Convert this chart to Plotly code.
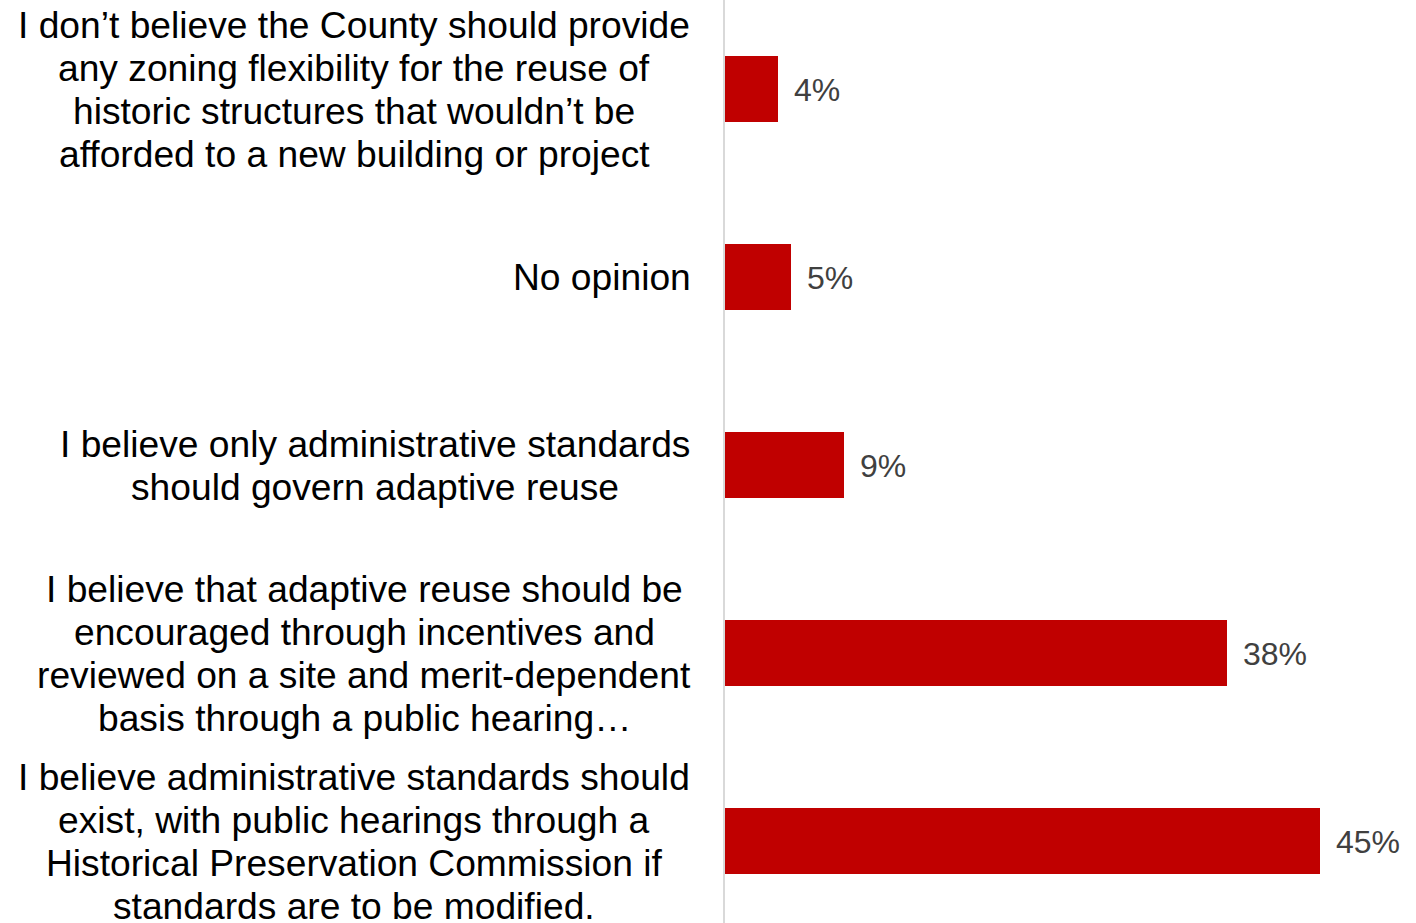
import plotly.graph_objects as go

# Survey responses (top to bottom) and their shares in percent
categories = [
    "I don’t believe the County should provide<br>any zoning flexibility for the reuse of<br>historic structures that wouldn’t be<br>afforded to a new building or project",
    "No opinion",
    "I believe only administrative standards<br>should govern adaptive reuse",
    "I believe that adaptive reuse should be<br>encouraged through incentives and<br>reviewed on a site and merit-dependent<br>basis through a public hearing…",
    "I believe administrative standards should<br>exist, with public hearings through a<br>Historical Preservation Commission if<br>standards are to be modified.",
]
values = [4, 5, 9, 38, 45]
value_labels = ["4%", "5%", "9%", "38%", "45%"]

# Layout constants (pixels)
W, H = 1416, 923
LEFT = 725
PX_PER_PCT = 13.22
ROW = 188
FIRST_CENTER = 89
LINE_GAP = 43
# horizontal centre of each label block
label_centers = [354, 602, 375, 364, 354]

BAR_COLOR = "#C00000"
FONT = "Liberation Sans, Arial, sans-serif"

positions = list(range(len(categories)))

fig = go.Figure()
fig.add_trace(go.Bar(
    x=values,
    y=positions,
    orientation="h",
    width=66 / ROW,
    marker=dict(color=BAR_COLOR, line=dict(width=0)),
    hoverinfo="skip",
))

plot_w = W - LEFT
annotations = []

# Category labels, one annotation per line for tight line spacing
for i, (cat, cx) in enumerate(zip(categories, label_centers)):
    lines = cat.split("<br>")
    n = len(lines)
    for k, line in enumerate(lines):
        annotations.append(dict(
            x=(cx - LEFT) / plot_w, xref="paper",
            y=positions[i], yref="y",
            yshift=-(k - (n - 1) / 2) * LINE_GAP,
            text=line, showarrow=False,
            xanchor="center", yanchor="middle",
            font=dict(family=FONT, size=37.2, color="#000000"),
        ))

# Value labels just beyond each bar
for v, lab, p in zip(values, value_labels, positions):
    annotations.append(dict(
        x=v, xref="x", y=p, yref="y",
        xshift=14, yshift=-1, text=lab, showarrow=False,
        xanchor="left", yanchor="middle",
        font=dict(family=FONT, size=32, color="#404040"),
    ))

fig.update_layout(
    width=W, height=H,
    margin=dict(l=LEFT, r=0, t=0, b=0),
    paper_bgcolor="white", plot_bgcolor="white",
    showlegend=False,
    bargap=0,
    annotations=annotations,
    xaxis=dict(range=[0, plot_w / PX_PER_PCT], visible=False, fixedrange=True),
    yaxis=dict(
        range=[(H - FIRST_CENTER) / ROW, -FIRST_CENTER / ROW],
        showticklabels=False, showgrid=False, zeroline=False, ticks="",
        showline=True, linecolor="#D9D9D9", linewidth=2, mirror=False,
        fixedrange=True,
    ),
)

fig.write_html("out.html", config={"displayModeBar": False})
